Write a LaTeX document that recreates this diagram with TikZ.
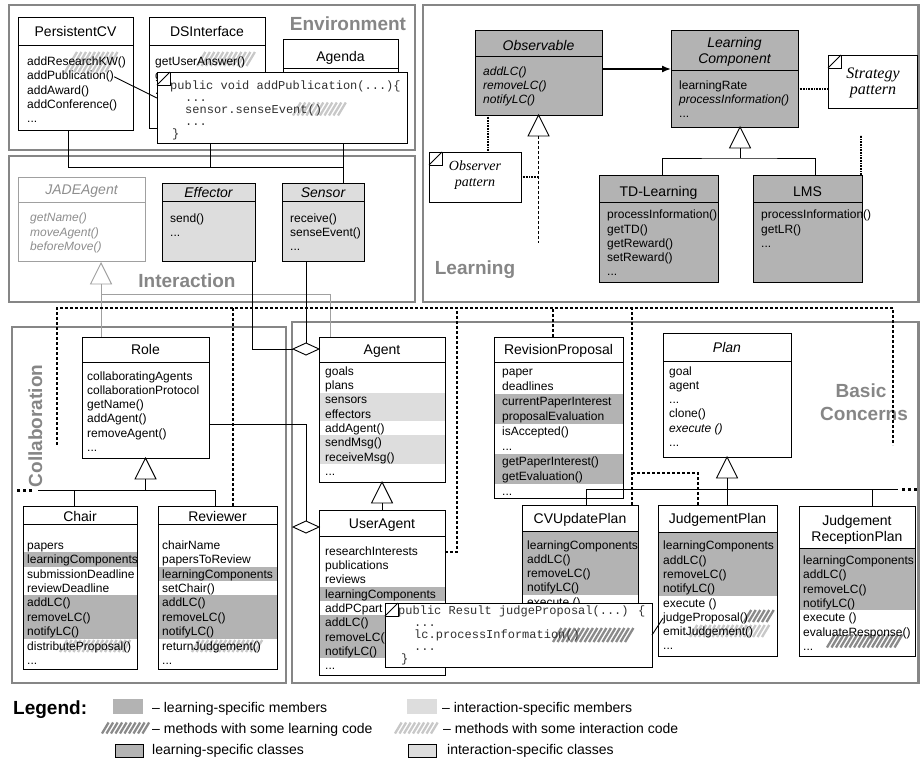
\documentclass[tikz,border=0pt]{standalone}
\usepackage{fontspec}
\setmainfont{Liberation Sans}
\newfontfamily\codefont{Liberation Mono}
\newfontfamily\notefont{Liberation Serif}
\usetikzlibrary{shapes.geometric,arrows.meta,calc}
\definecolor{lgray}{HTML}{B3B3B3}
\definecolor{igray}{HTML}{DDDDDD}
\definecolor{pgray}{HTML}{868686}
\definecolor{jgray}{HTML}{8E8E8E}
\definecolor{jline}{HTML}{A0A0A0}
\definecolor{hdark}{HTML}{8A8A8A}
\definecolor{hlight}{HTML}{C8C8C8}
\definecolor{codegray}{HTML}{303030}

\newcommand\ddd{...}

\tikzset{
  panel/.style={draw=pgray, line width=2.6pt},
  plabel/.style={font=\fontsize{19}{22}\selectfont\bfseries, text=pgray, inner sep=0pt, anchor=base},
  clsbox/.style={inner sep=0pt, outer sep=0pt, anchor=north west},
  clsline/.style={line width=0.9pt},
  cname/.style={font=\fontsize{14}{16}\selectfont, inner sep=0pt, anchor=base},
  cnameit/.style={font=\fontsize{14}{16}\selectfont\itshape, inner sep=0pt, anchor=base},
  mem/.style={font=\fontsize{12}{14}\selectfont, inner sep=0pt, anchor=base west},
  memit/.style={mem, font=\fontsize{12}{14}\selectfont\itshape},
  memj/.style={memit, text=jgray},
  code/.style={font=\codefont\fontsize{12}{12}\selectfont, text=codegray, inner sep=0pt, anchor=base west},
  notebox/.style={draw=black, line width=0.9pt, fill=white, inner sep=0pt, outer sep=0pt, anchor=north west},
  pnote/.style={font=\notefont\itshape\fontsize{14}{16}\selectfont, align=center, inner sep=0pt},
  conn/.style={draw=black, line width=0.9pt},
  grayconn/.style={draw=jline, line width=0.9pt},
  bigdash/.style={draw=black, line width=1.6pt, dash pattern=on 3pt off 2pt},
  dotl/.style={draw=black, line width=1.8pt, dash pattern=on 0.9pt off 0.7pt},
  morebus/.style={draw=black, line width=3pt, dash pattern=on 3pt off 3pt},
  aggdia/.style={diamond, draw=black, line width=0.9pt, fill=white, inner sep=0pt, outer sep=0pt, minimum width=26pt, minimum height=12pt},
  legtxt/.style={font=\fontsize{14}{16}\selectfont, inner sep=0pt, anchor=base west},
  legsw/.style={inner sep=0pt, outer sep=0pt, anchor=north west, minimum width=30pt, minimum height=15pt},
  legbox/.style={draw=black, line width=0.9pt, inner sep=0pt, outer sep=0pt, anchor=north west, minimum width=28pt, minimum height=13pt},
}

\newcommand\mkclass[7]{%
  \node[clsbox, fill=#6, minimum width={(#4)-(#2)}, minimum height={(#5)-(#3)}] (#1) at (#2,#3) {};
  \coordinate (#1-hl) at (#2,#7);
  \coordinate (#1-hr) at (#4,#7);}
\newcommand\clsframe[2]{%
  \draw[clsline, draw=#2] (#1.north west) rectangle (#1.south east);
  \draw[clsline, draw=#2] (#1-hl) -- (#1-hr);}
\newcommand\clsmembers[6]{%
  \foreach \mtext [count=\mi] in {#6} {\node[#5] (#1-m\mi) at (#2, {#3+(\mi-1)*#4+4.3}) {\mtext};}}
\newcommand\clsrows[7]{%
  \fill[#7] (#1, {#3+(#5-1.5)*#4}) rectangle (#2, {#3+(#6-0.5)*#4});}
\newcommand\myhatch[5]{%
  \pgfmathtruncatemacro\hN{((#2)-(#1)-0.6*(#4))/4.5}%
  \foreach \hk in {0,...,\hN} {\draw[#5, line width=2.3pt] ({#1+\hk*4.5}, {#3+0.5*(#4)}) -- ++({0.6*(#4)}, {-(#4)});}}
\newcommand\inh[3]{%
  \draw[draw=#3, line width=0.9pt, fill=white] (#1) -- ++(-10.5,21) -- ++(21,0) -- cycle;
  \path (#1) ++(0,21) coordinate (#2);}
\newcommand\notecorner[1]{%
  \draw[clsline] (#1.north west) rectangle ++(13,13);
  \draw[clsline] (#1.north west) ++(0,13) -- ++(13,-13);}

\begin{document}
\begin{tikzpicture}[x=1pt, y=-1pt]
\useasboundingbox (0,0) rectangle (921,758);
\fill[white] (0,0) rectangle (921,758);

% ---------- panels ----------
\draw[panel] (9,5) rectangle (415,150);
\draw[panel] (9,156) rectangle (415,302);
\draw[panel] (423,5) rectangle (918.5,302);
\draw[panel] (12,327) rectangle (286,683);
\draw[panel] (292,322) rectangle (918.5,683);
\node[plabel] (lab-env) at (348,30) {Environment};
\node[plabel] (lab-int) at (187,287) {Interaction};
\node[plabel] (lab-learn) at (475,274) {Learning};
\node[plabel, rotate=90] (lab-coll) at (42,426) {Collaboration};
\node[plabel] (lab-bc1) at (861,397) {Basic};
\node[plabel] (lab-bc2) at (864,420) {Concerns};

% ---------- Environment classes ----------
\mkclass{pcv}{18}{17}{133}{130}{white}{45}
\myhatch{65}{122}{62}{20}{hlight}
\clsframe{pcv}{black}
\node[cname] (pcv-n) at (75.5,36) {PersistentCV};
\clsmembers{pcv}{27}{61.5}{14.1}{mem}{addResearchKW(),addPublication(),addAward(),addConference(),\ddd}

\mkclass{dsi}{149}{17}{265}{128}{white}{45}
\myhatch{197}{257}{59}{14}{hlight}
\clsframe{dsi}{black}
\node[cname] (dsi-n) at (207,36) {DSInterface};
\clsmembers{dsi}{155}{61.5}{14.1}{mem}{getUserAnswer(),g,\ddd}

\mkclass{agenda}{283}{39}{398}{130}{white}{68}
\clsframe{agenda}{black}
\node[cname] (agenda-n) at (340.5,61) {Agenda};

% ---------- Interaction classes ----------
\mkclass{jade}{18}{177}{145}{261}{white}{202}
\clsframe{jade}{jline}
\node[cnameit, text=jgray] (jade-n) at (81.5,194.5) {JADEAgent};
\clsmembers{jade}{30}{217.5}{14.3}{memj}{getName(),moveAgent(),beforeMove()}

\mkclass{eff}{162}{183}{255}{261}{igray}{201}
\clsframe{eff}{black}
\node[cnameit] (eff-n) at (208.5,197) {Effector};
\clsmembers{eff}{170}{218}{14.2}{mem}{send(),\ddd}

\mkclass{sens}{282}{183}{364}{261}{igray}{201}
\clsframe{sens}{black}
\node[cnameit] (sens-n) at (323,197) {Sensor};
\clsmembers{sens}{290}{218}{14.2}{mem}{receive(),senseEvent(),\ddd}

% ---------- Learning classes ----------
\mkclass{obs}{475}{30}{602}{115}{lgray}{56}
\clsframe{obs}{black}
\node[cnameit] (obs-n) at (538.5,50) {Observable};
\clsmembers{obs}{483}{71}{14.2}{memit}{addLC(),removeLC(),notifyLC()}

\mkclass{lc}{671}{30}{798}{127}{lgray}{70}
\clsframe{lc}{black}
\node[cnameit] (lc-n1) at (734.5,47) {Learning};
\node[cnameit] (lc-n2) at (734.5,63) {Component};
\clsmembers{lc}{679}{85}{14.2}{mem}{learningRate,{\itshape processInformation()},\ddd}

\mkclass{td}{599}{175}{718}{282}{lgray}{202}
\clsframe{td}{black}
\node[cname] (td-n) at (658.5,196) {TD-Learning};
\clsmembers{td}{607}{214.5}{14.2}{mem}{processInformation(),getTD(),getReward(),setReward(),\ddd}

\mkclass{lms}{753}{175}{862}{282}{lgray}{202}
\clsframe{lms}{black}
\node[cname] (lms-n) at (807.5,196) {LMS};
\clsmembers{lms}{761}{214.5}{14.2}{mem}{processInformation(),getLR(),\ddd}

% ---------- Collaboration classes ----------
\mkclass{role}{82}{337}{209}{458}{white}{362}
\clsframe{role}{black}
\node[cname] (role-n) at (145.5,354) {Role};
\clsmembers{role}{87}{376}{14.2}{mem}{collaboratingAgents,collaborationProtocol,getName(),addAgent(),removeAgent(),\ddd}

\mkclass{chair}{23}{506}{137}{669}{white}{524}
\clsrows{23}{137}{545}{14.4}{2}{2}{lgray}
\clsrows{23}{137}{545}{14.4}{5}{7}{lgray}
\myhatch{60}{134}{646}{12}{hlight}
\clsframe{chair}{black}
\node[cname] (chair-n) at (80,521) {Chair};
\clsmembers{chair}{27}{545}{14.4}{mem}{papers,learningComponents,submissionDeadline,reviewDeadline,addLC(),removeLC(),notifyLC(),distributeProposal(),\ddd}

\mkclass{reviewer}{158}{506}{277}{669}{white}{524}
\clsrows{158}{277}{545}{14.4}{3}{3}{lgray}
\clsrows{158}{277}{545}{14.4}{5}{7}{lgray}
\myhatch{192}{263}{646}{12}{hlight}
\clsframe{reviewer}{black}
\node[cname] (reviewer-n) at (217.5,521) {Reviewer};
\clsmembers{reviewer}{162}{545}{14.4}{mem}{chairName,papersToReview,learningComponents,setChair(),addLC(),removeLC(),notifyLC(),returnJudgement(),\ddd}

% ---------- Basic concerns classes ----------
\mkclass{agent}{319}{337}{445}{482}{white}{362}
\clsrows{319}{445}{371}{14.33}{3}{4}{igray}
\clsrows{319}{445}{371}{14.33}{6}{7}{igray}
\clsframe{agent}{black}
\node[cname] (agent-n) at (382,354) {Agent};
\clsmembers{agent}{325}{371}{14.33}{mem}{goals,plans,sensors,effectors,addAgent(),sendMsg(),receiveMsg(),\ddd}

\mkclass{useragent}{319}{510}{445}{675}{white}{536}
\clsrows{319}{445}{551}{14.3}{4}{4}{lgray}
\clsrows{319}{445}{551}{14.3}{6}{8}{lgray}
\clsframe{useragent}{black}
\node[cname] (useragent-n) at (382,528) {UserAgent};
\clsmembers{useragent}{325}{551}{14.3}{mem}{researchInterests,publications,reviews,learningComponents,addPCpart,addLC(),removeLC(),notifyLC(),\ddd}

\mkclass{revprop}{494}{337}{623}{498}{white}{362}
\clsrows{494}{623}{371.5}{15}{3}{4}{lgray}
\clsrows{494}{623}{371.5}{15}{7}{8}{lgray}
\clsframe{revprop}{black}
\node[cname] (revprop-n) at (558.5,354) {RevisionProposal};
\clsmembers{revprop}{502}{371.5}{15}{mem}{paper,deadlines,currentPaperInterest,proposalEvaluation,isAccepted(),\ddd,getPaperInterest(),getEvaluation(),\ddd}

\mkclass{plan}{663}{333}{791}{457}{white}{361}
\clsframe{plan}{black}
\node[cnameit] (plan-n) at (727,352) {Plan};
\clsmembers{plan}{669}{371}{14.2}{mem}{goal,agent,\ddd,clone(),{\itshape execute ()},\ddd}

\mkclass{cvplan}{522}{505}{638}{660}{white}{531}
\fill[lgray] (522,531) rectangle (638,594.7);
\clsframe{cvplan}{black}
\node[cname] (cvplan-n) at (580,523) {CVUpdatePlan};
\clsmembers{cvplan}{527}{545}{14.2}{mem}{learningComponents,addLC(),removeLC(),notifyLC(),execute ()}

\mkclass{jplan}{658}{505}{777}{656}{white}{532}
\fill[lgray] (658,532) rectangle (777,595.5);
\myhatch{744}{775}{616}{12}{hdark}
\myhatch{690}{773}{631}{12}{hlight}
\clsframe{jplan}{black}
\node[cname] (jplan-n) at (717.5,523) {JudgementPlan};
\clsmembers{jplan}{663}{545.5}{14.3}{mem}{learningComponents,addLC(),removeLC(),notifyLC(),execute (),judgeProposal(),emitJudgement(),\ddd}

\mkclass{jrplan}{799}{506}{915}{656}{white}{548}
\fill[lgray] (799,548) rectangle (915,610.4);
\myhatch{827}{903}{641}{13}{hdark}
\clsframe{jrplan}{black}
\node[cname] (jrplan-n1) at (857,525) {Judgement};
\node[cname] (jrplan-n2) at (857,541) {ReceptionPlan};
\clsmembers{jrplan}{803}{560}{14.4}{mem}{learningComponents,addLC(),removeLC(),notifyLC(),execute (),evaluateResponse(),\ddd}

% ---------- Environment -> Sensor ----------
\path ([xshift=-7.5pt]pcv.south) coordinate (pcvb);
\path ([xshift=3pt]dsi.south) coordinate (dsib);
\path ([xshift=2.5pt]agenda.south) coordinate (agb);
\path ([xshift=20pt]sens.north) coordinate (senst);
\coordinate (envbus) at (343,167);
\draw[conn] (pcvb) |- (envbus) -- (senst);
\draw[conn] (dsib) -- (dsib |- envbus);
\draw[conn] (agb) -- (envbus);

% ---------- JADEAgent inheritance ----------
\path ([xshift=19.5pt,yshift=-2pt]jade.south) coordinate (jtop);
\inh{jtop}{jtb}{jline}
\path ([xshift=-44.5pt]role.north) coordinate (rolet);
\path ([xshift=-52pt]agent.north) coordinate (agentt);
\coordinate (jbus) at (101,294);
\draw[grayconn] (jtb) -- (rolet);
\draw[grayconn] (jbus) -| (agentt);

% ---------- Effector / Sensor -> Agent ----------
\node[aggdia, anchor=east] (agdia) at ([yshift=60.5pt]agent.west) {};
\path ([xshift=43.5pt]eff.south) coordinate (effb);
\path ([xshift=-17pt]sens.south) coordinate (sensb);
\draw[conn] (effb) |- (agdia.west);
\draw[conn] (sensb) -- (agdia.north);

% ---------- Role -> UserAgent ----------
\node[aggdia, anchor=east] (uadia) at ([yshift=65.5pt]useragent.west) {};
\path ([yshift=-26.5pt]role.east) coordinate (rolee);
\draw[conn] (rolee) -| (uadia.north);

% ---------- Agent -> UserAgent ----------
\inh{agent.south}{agtb}{black}
\draw[conn] (agtb) -- (useragent.north);

% ---------- Role -> Chair, Reviewer ----------
\inh{role.south}{rtb}{black}
\coordinate (rbusl) at (38,490);
\path ([xshift=-6pt]chair.north) coordinate (cht);
\path ([xshift=-2.5pt]reviewer.north) coordinate (rvt);
\draw[conn] (rtb) -- (rtb |- rbusl);
\draw[conn] (rbusl) -| (rvt);
\draw[conn] (cht) -- (cht |- rbusl);
\coordinate (rd1) at (32,490);
\coordinate (rd2) at (17,490);
\draw[morebus] (rd1) -- (rd2);

% ---------- Plan -> sub plans ----------
\inh{plan.south}{pltb}{black}
\path ([xshift=6pt]cvplan.north) coordinate (cvt);
\path ([xshift=9.5pt]jplan.north) coordinate (jpt);
\path ([xshift=15pt]jrplan.north) coordinate (jrt);
\coordinate (pbusend) at (898,489);
\draw[conn] (cvt) |- (pbusend);
\draw[conn] (pltb) -- (jpt);
\draw[conn] (jrt) -- (jrt |- pbusend);
\coordinate (pd1) at (902,489);
\coordinate (pd2) at (917,489);
\draw[morebus] (pd1) -- (pd2);

% ---------- Learning connectors ----------
\inh{obs.south}{obstb}{black}
\coordinate (obsreal) at (538.5,243);
\draw[bigdash] (obstb) -- (obsreal);
\draw[conn, line width=1.4pt, -{Latex[length=9pt,width=7pt]}] ([yshift=3.5pt]obs.east) -- ([yshift=9.5pt]lc.west);
\path ([xshift=5.5pt]lc.south) coordinate (lcs);
\inh{lcs}{lctb}{black}
\path ([xshift=3.5pt]td.north) coordinate (tdt);
\path ([xshift=7.5pt]lms.north) coordinate (lmt);
\coordinate (lbus) at (740,158);
\draw[conn] (tdt) |- (lbus) -| (lmt);
\draw[conn] (lctb) -- (lbus);

\node[notebox, minimum width=92pt, minimum height=50pt] (obsnote) at (429,152) {};
\notecorner{obsnote}
\node[pnote] (obsnote-t) at (475,175.5) {Observer\\pattern};
\node[notebox, minimum width=89pt, minimum height=53pt] (strat) at (828,55) {};
\notecorner{strat}
\node[pnote, font=\notefont\itshape\fontsize{16}{16}\selectfont] (strat-t) at (873,83) {Strategy\\pattern};
\draw[dotl] ([xshift=-50.5pt]obs.south) -- ([xshift=13pt]obsnote.north);
\draw[dotl] (obsnote.east) -- (obsnote.east -| obsreal);
\draw[dotl] ([yshift=-10.5pt]lc.east) -- ([yshift=-7.5pt]strat.west);
\path ([xshift=-1pt]lms.north east) coordinate (lmst);
\coordinate (stratlink) at (861,135);
\draw[dotl] (lmst) -- (stratlink);

% ---------- big dashed crosscut ----------
\coordinate (dbl) at (57,445);
\coordinate (dcl) at (57,308);
\coordinate (dcr) at (893,308);
\coordinate (dbr) at (893,445);
\draw[bigdash] (dbl) -- (dcl) -- (dcr) -- (dbr);
\path ([xshift=15.5pt]reviewer.north) coordinate (rvd);
\draw[bigdash] (rvd) -- (rvd |- dcl);
\path ([yshift=40.5pt]useragent.east) coordinate (uad);
\coordinate (uadt) at (457,308);
\draw[bigdash] (uad) -| (uadt);
\path ([xshift=-5.5pt]revprop.north) coordinate (rpd);
\draw[bigdash] (rpd) -- (rpd |- dcl);
\path ([xshift=52pt]cvplan.north) coordinate (cvd);
\draw[bigdash] (cvd) -- (cvd |- dcl);
\path ([xshift=-19.5pt]jplan.north) coordinate (jpd);
\coordinate (cvj) at (632,473);
\draw[bigdash] (jpd) |- (cvj);

% ---------- code notes ----------
\node[notebox, minimum width=250pt, minimum height=71pt] (note1) at (157,72) {};
\notecorner{note1}
\myhatch{293}{347}{109}{13}{hlight}
\node[code] (n1-1) at (170,89.8) {public void addPublication(...)\{};
\node[code] (n1-2) at (185,101.8) {...};
\node[code] (n1-3) at (185,113.8) {sensor.senseEvent()};
\node[code] (n1-4) at (185,125.8) {...};
\node[code] (n1-5) at (172,137.8) {\}};
\draw[conn] (pcv-m2.east) -- ([yshift=9.5pt]note1.west);

\node[notebox, minimum width=267pt, minimum height=64pt] (note2) at (385,603) {};
\notecorner{note2}
\myhatch{553}{635}{635}{14}{hdark}
\node[code] (n2-1) at (398,614.8) {public Result judgeProposal(...) \{};
\node[code] (n2-2) at (414,626.8) {...};
\node[code] (n2-3) at (414,638.8) {lc.processInformation()};
\node[code] (n2-4) at (414,650.8) {...};
\node[code] (n2-5) at (401,662.8) {\}};
\draw[conn] (note2.east) -- (jplan-m6.west);

% ---------- legend ----------
\node[font=\fontsize{19}{21}\selectfont\bfseries, anchor=base west, inner sep=0pt] (leg) at (13,714) {Legend:};
\node[legsw, fill=lgray] (lsw1) at (113,699) {};
\node[legtxt] (lt1) at (152,712) {\textendash{} learning-specific members};
\node[legsw, fill=igray] (lsw2) at (407,699) {};
\node[legtxt] (lt2) at (442,712) {\textendash{} interaction-specific members};
\myhatch{102}{150}{728}{11}{hdark}
\node[legtxt] (lt3) at (152,733) {\textendash{} methods with some learning code};
\myhatch{395}{441}{728}{11}{hlight}
\node[legtxt] (lt4) at (443,733) {\textendash{} methods with some interaction code};
\node[legbox, fill=lgray] (lb1) at (115,744) {};
\node[legtxt] (lt5) at (152,754) {learning-specific classes};
\node[legbox, fill=igray] (lb2) at (408,744) {};
\node[legtxt] (lt6) at (447,754) {interaction-specific classes};
\end{tikzpicture}
\end{document}
